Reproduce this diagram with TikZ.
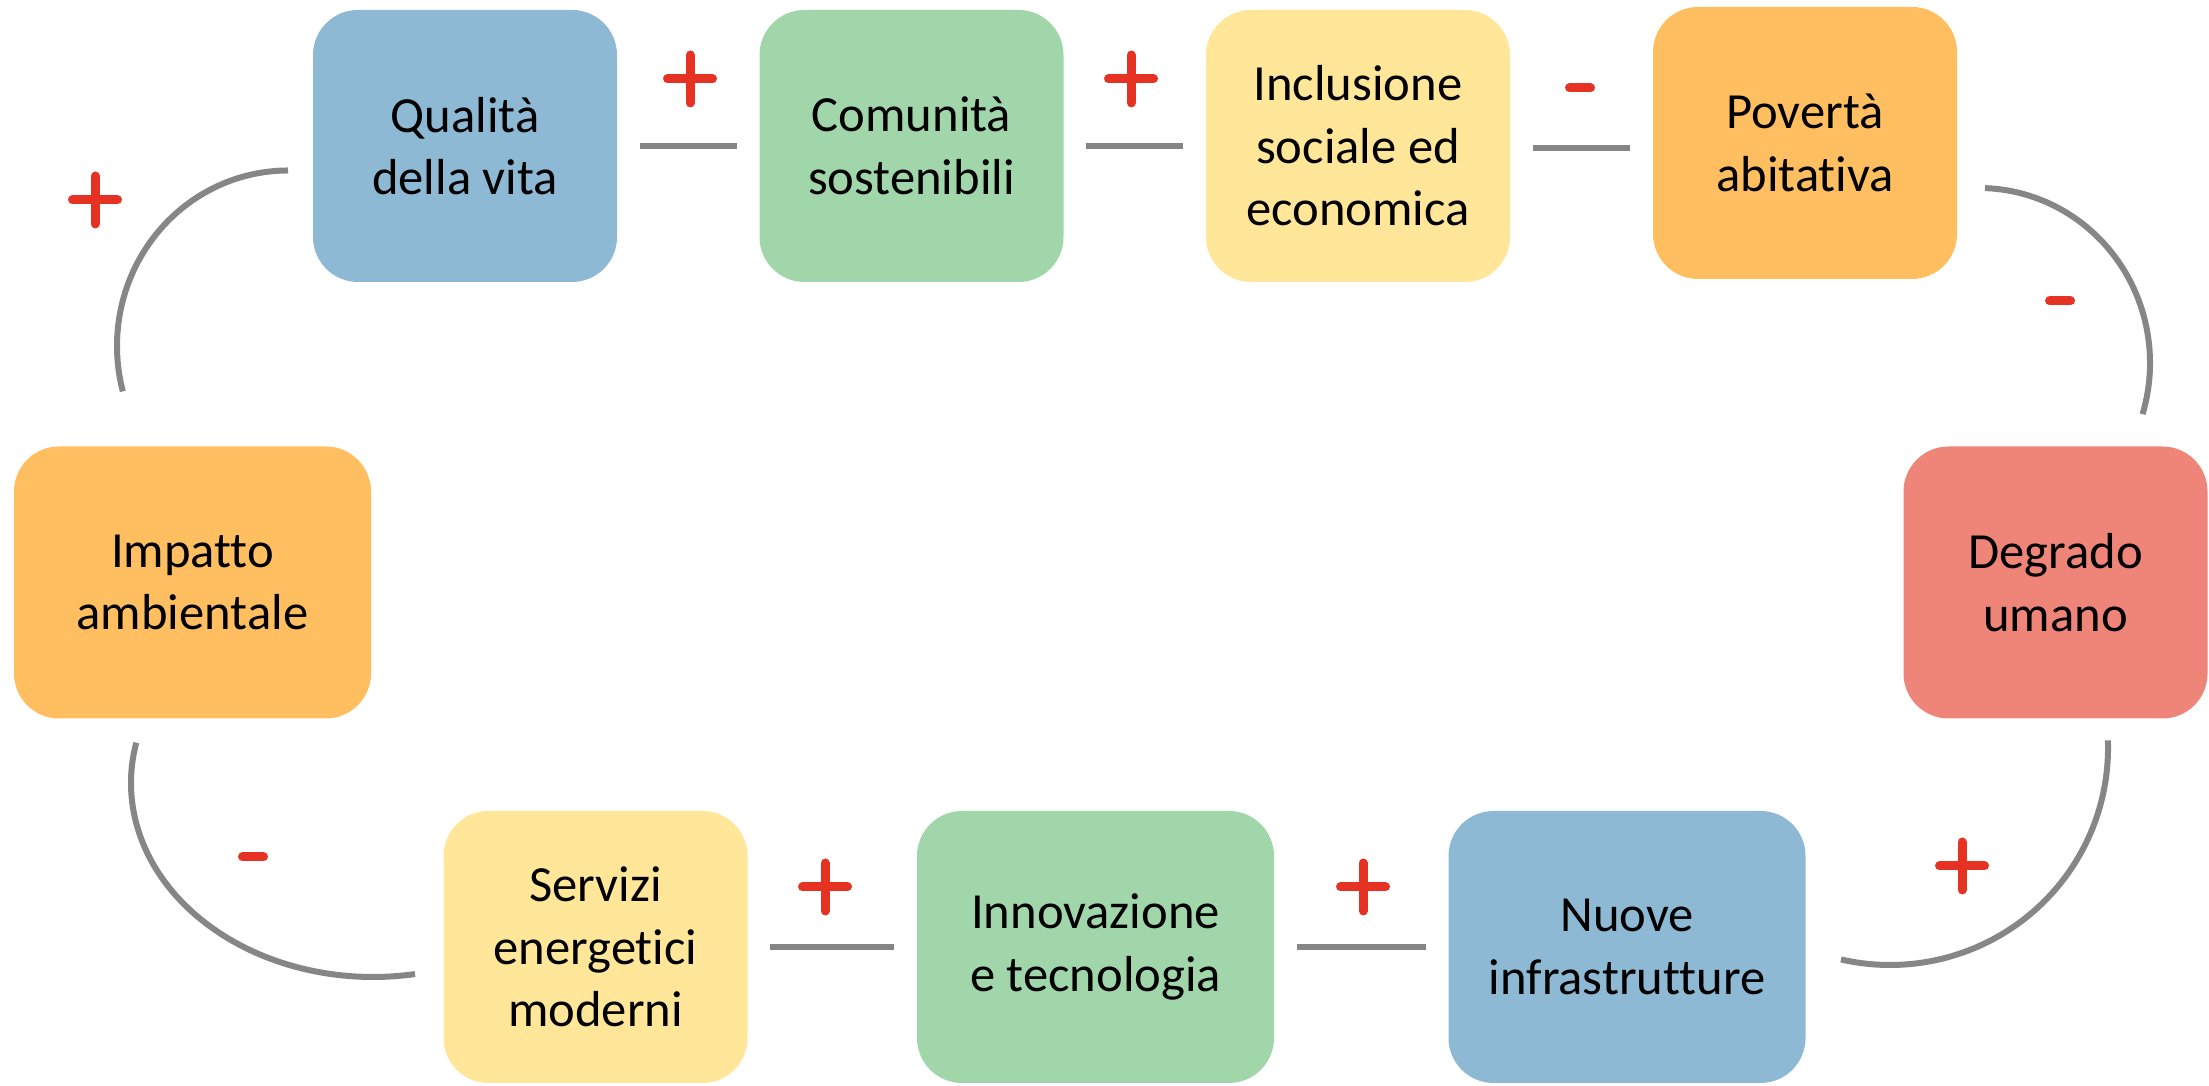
\documentclass[tikz,border=0pt]{standalone}
\usepackage{fontspec}
\setmainfont{Carlito}[Ligatures=CommonOff]
\definecolor{boxblue}{RGB}{141,185,212}
\definecolor{boxgreen}{RGB}{160,214,170}
\definecolor{boxyellow}{RGB}{255,230,153}
\definecolor{boxorange}{RGB}{255,191,97}
\definecolor{boxsalmon}{RGB}{239,132,121}
\definecolor{signred}{RGB}{229,50,35}
\definecolor{linegray}{RGB}{134,134,134}
\tikzset{
  box/.style={rectangle, rounded corners=0.45cm, minimum width=3.04cm, minimum height=2.72cm, inner sep=0pt, align=center, font=\fontsize{14.4}{17.8}\selectfont},
  widebox/.style={box, minimum width=3.57cm},
  link/.style={draw=linegray, line width=0.06cm, shorten <=0.22cm, shorten >=0.22cm},
  loopline/.style={draw=linegray, line width=0.06cm},
  sign/.style={draw=signred, line width=0.09cm, line cap=round},
  plussign/.pic={\draw[sign] (-0.225,0) -- (0.225,0) (0,-0.24) -- (0,0.24);},
  minussign/.pic={\draw[sign] (-0.105,0) -- (0.105,0);}
}

\begin{document}
\begin{tikzpicture}
\useasboundingbox (0,0) rectangle (22.09,10.86);
\node [box, fill=boxblue] (qual) at (4.65,9.40) {Qualità\\della vita};
\node [box, fill=boxgreen] (com) at (9.115,9.40) {Comunità\\sostenibili};
\node [box, fill=boxyellow] (incl) at (13.58,9.40) {Inclusione\\sociale ed\\economica};
\node [box, fill=boxorange] (pov) at (18.05,9.43) {Povertà\\abitativa};
\node [box, fill=boxsalmon] (deg) at (20.555,5.035) {Degrado\\umano};
\node [widebox, fill=boxblue] (nuove) at (16.27,1.39) {Nuove\\infrastrutture};
\node [widebox, fill=boxgreen] (inno) at (10.955,1.39) {Innovazione\\e tecnologia};
\node [box, fill=boxyellow] (serv) at (5.955,1.39) {Servizi\\energetici\\moderni};
\node [widebox, fill=boxorange] (imp) at (1.925,5.035) {Impatto\\ambientale};

\draw [link] (qual.east) -- (com.west);
\draw [link] (com.east) -- (incl.west);
\draw [link] ([yshift=-0.02cm]incl.east) -- ([yshift=-0.05cm]pov.west);
\draw [link] (serv.east) -- (inno.west);
\draw [link] (inno.east) -- (nuove.west);

\coordinate (o1) at (19.79,7.23);
\coordinate (o2) at (18.90,3.38);
\coordinate (o3) at (3.73,3.03);
\coordinate (o4) at (2.88,7.40);
\draw [loopline] ([shift={(88:1.71 and 1.75)}]o1) arc[start angle=88, end angle=-17, x radius=1.71, y radius=1.75];
\draw [loopline] ([shift={(2:2.18 and 2.17)}]o2) arc[start angle=2, end angle=-103, x radius=2.18, y radius=2.17];
\draw [loopline] ([shift={(168:2.42 and 1.94)}]o3) arc[start angle=168, end angle=280, x radius=2.42, y radius=1.94];
\draw [loopline] ([shift={(90:1.71 and 1.755)}]o4) arc[start angle=90, end angle=195, x radius=1.71, y radius=1.755];

\pic (s1) at (6.90,10.07) {plussign};
\pic (s2) at (11.31,10.07) {plussign};
\pic (s3) at (15.80,9.98) {minussign};
\pic (s4) at (20.60,7.85) {minussign};
\pic (s5) at (19.62,2.20) {plussign};
\pic (s6) at (13.63,1.99) {plussign};
\pic (s7) at (8.25,1.99) {plussign};
\pic (s8) at (2.53,2.29) {minussign};
\pic (s9) at (0.95,8.86) {plussign};
\end{tikzpicture}
\end{document}
